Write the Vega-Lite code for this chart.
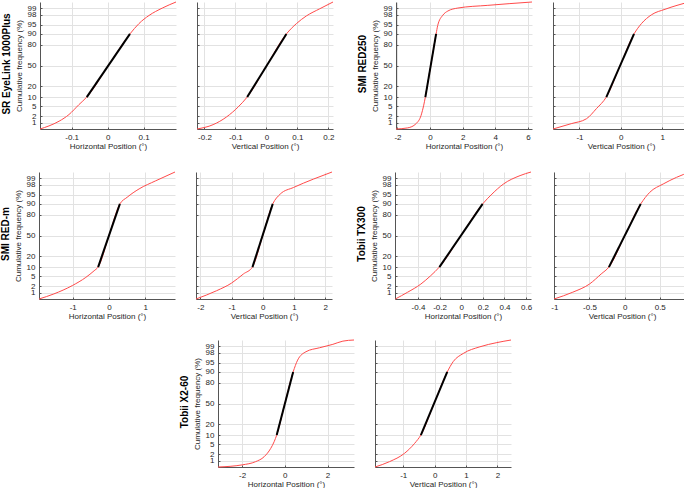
{
  "$schema": "https://vega.github.io/schema/vega-lite/v6.json",
  "padding": {"left": 1, "top": 0, "right": 0, "bottom": 0},
  "background": "white",
  "datasets": {
    "A": [
      {"s": "curve", "x": -0.188, "z": -2.5758}, {"s": "curve", "x": -0.163, "z": -2.45}, {"s": "curve", "x": -0.135, "z": -2.26},
      {"s": "curve", "x": -0.1075, "z": -1.99}, {"s": "curve", "x": -0.08, "z": -1.59}, {"s": "curve", "x": -0.058, "z": -1.28},
      {"s": "curve", "x": 0.002, "z": 0}, {"s": "curve", "x": 0.062, "z": 1.28}, {"s": "curve", "x": 0.087, "z": 1.7},
      {"s": "curve", "x": 0.115, "z": 2.03}, {"s": "curve", "x": 0.152, "z": 2.33}, {"s": "curve", "x": 0.19, "z": 2.5758},
      {"s": "fit", "x": -0.058, "z": -1.2816}, {"s": "fit", "x": 0.062, "z": 1.2816}
    ],
    "B": [
      {"s": "curve", "x": -0.224, "z": -2.5758}, {"s": "curve", "x": -0.172, "z": -2.4}, {"s": "curve", "x": -0.129, "z": -2.09},
      {"s": "curve", "x": -0.091, "z": -1.68}, {"s": "curve", "x": -0.062, "z": -1.28}, {"s": "curve", "x": 0.001, "z": 0},
      {"s": "curve", "x": 0.0645, "z": 1.28}, {"s": "curve", "x": 0.097, "z": 1.7}, {"s": "curve", "x": 0.129, "z": 2.01},
      {"s": "curve", "x": 0.172, "z": 2.3}, {"s": "curve", "x": 0.215, "z": 2.5758},
      {"s": "fit", "x": -0.062, "z": -1.2816}, {"s": "fit", "x": 0.0645, "z": 1.2816}
    ],
    "C": [
      {"s": "curve", "x": -2.09, "z": -2.5758}, {"s": "curve", "x": -1.37, "z": -2.53}, {"s": "curve", "x": -0.86, "z": -2.36},
      {"s": "curve", "x": -0.55, "z": -2.02}, {"s": "curve", "x": -0.39, "z": -1.61}, {"s": "curve", "x": -0.29, "z": -1.28},
      {"s": "curve", "x": 0.04, "z": 0}, {"s": "curve", "x": 0.37, "z": 1.28}, {"s": "curve", "x": 0.47, "z": 1.63},
      {"s": "curve", "x": 0.78, "z": 2.04}, {"s": "curve", "x": 1.09, "z": 2.21}, {"s": "curve", "x": 1.7, "z": 2.33},
      {"s": "curve", "x": 3.54, "z": 2.44}, {"s": "curve", "x": 6.25, "z": 2.5758},
      {"s": "fit", "x": -0.29, "z": -1.2816}, {"s": "fit", "x": 0.37, "z": 1.2816}
    ],
    "D": [
      {"s": "curve", "x": -1.64, "z": -2.5758}, {"s": "curve", "x": -1.2, "z": -2.36}, {"s": "curve", "x": -0.83, "z": -2.16},
      {"s": "curve", "x": -0.59, "z": -1.75}, {"s": "curve", "x": -0.35, "z": -1.28}, {"s": "curve", "x": -0.015, "z": 0},
      {"s": "curve", "x": 0.32, "z": 1.28}, {"s": "curve", "x": 0.5, "z": 1.7}, {"s": "curve", "x": 0.745, "z": 2.06},
      {"s": "curve", "x": 1.07, "z": 2.28}, {"s": "curve", "x": 1.65, "z": 2.5758},
      {"s": "fit", "x": -0.35, "z": -1.2816}, {"s": "fit", "x": 0.32, "z": 1.2816}
    ],
    "E": [
      {"s": "curve", "x": -1.93, "z": -2.5758}, {"s": "curve", "x": -1.52, "z": -2.37}, {"s": "curve", "x": -1.01, "z": -2.03},
      {"s": "curve", "x": -0.64, "z": -1.7}, {"s": "curve", "x": -0.41, "z": -1.43}, {"s": "curve", "x": -0.3, "z": -1.28},
      {"s": "curve", "x": 0, "z": 0}, {"s": "curve", "x": 0.3, "z": 1.28}, {"s": "curve", "x": 0.5, "z": 1.55},
      {"s": "curve", "x": 0.83, "z": 1.89}, {"s": "curve", "x": 1.29, "z": 2.22}, {"s": "curve", "x": 1.82, "z": 2.5758},
      {"s": "fit", "x": -0.3, "z": -1.2816}, {"s": "fit", "x": 0.3, "z": 1.2816}
    ],
    "F": [
      {"s": "curve", "x": -2.14, "z": -2.5758}, {"s": "curve", "x": -1.48, "z": -2.24}, {"s": "curve", "x": -1.0, "z": -1.93},
      {"s": "curve", "x": -0.62, "z": -1.56}, {"s": "curve", "x": -0.33, "z": -1.28}, {"s": "curve", "x": 0, "z": 0},
      {"s": "curve", "x": 0.32, "z": 1.28}, {"s": "curve", "x": 0.56, "z": 1.68}, {"s": "curve", "x": 0.99, "z": 1.95},
      {"s": "curve", "x": 1.63, "z": 2.29}, {"s": "curve", "x": 2.22, "z": 2.5758},
      {"s": "fit", "x": -0.33, "z": -1.2816}, {"s": "fit", "x": 0.32, "z": 1.2816}
    ],
    "G": [
      {"s": "curve", "x": -0.609, "z": -2.5758}, {"s": "curve", "x": -0.495, "z": -2.3}, {"s": "curve", "x": -0.373, "z": -1.97},
      {"s": "curve", "x": -0.282, "z": -1.63}, {"s": "curve", "x": -0.202, "z": -1.28}, {"s": "curve", "x": -0.002, "z": 0},
      {"s": "curve", "x": 0.198, "z": 1.28}, {"s": "curve", "x": 0.284, "z": 1.68}, {"s": "curve", "x": 0.391, "z": 2.09},
      {"s": "curve", "x": 0.544, "z": 2.43}, {"s": "curve", "x": 0.645, "z": 2.5758},
      {"s": "fit", "x": -0.202, "z": -1.2816}, {"s": "fit", "x": 0.198, "z": 1.2816}
    ],
    "H": [
      {"s": "curve", "x": -1.004, "z": -2.5758}, {"s": "curve", "x": -0.737, "z": -2.3}, {"s": "curve", "x": -0.5, "z": -1.97},
      {"s": "curve", "x": -0.333, "z": -1.56}, {"s": "curve", "x": -0.223, "z": -1.28}, {"s": "curve", "x": 0.003, "z": 0},
      {"s": "curve", "x": 0.229, "z": 1.28}, {"s": "curve", "x": 0.357, "z": 1.75}, {"s": "curve", "x": 0.549, "z": 2.09},
      {"s": "curve", "x": 0.739, "z": 2.36}, {"s": "curve", "x": 0.93, "z": 2.5758},
      {"s": "fit", "x": -0.223, "z": -1.2816}, {"s": "fit", "x": 0.229, "z": 1.2816}
    ],
    "I": [
      {"s": "curve", "x": -3.13, "z": -2.5758}, {"s": "curve", "x": -2.0, "z": -2.49}, {"s": "curve", "x": -1.37, "z": -2.36},
      {"s": "curve", "x": -0.97, "z": -2.16}, {"s": "curve", "x": -0.66, "z": -1.82}, {"s": "curve", "x": -0.5, "z": -1.55},
      {"s": "curve", "x": -0.38, "z": -1.28}, {"s": "curve", "x": 0, "z": 0}, {"s": "curve", "x": 0.39, "z": 1.28},
      {"s": "curve", "x": 0.6, "z": 1.76}, {"s": "curve", "x": 0.99, "z": 2.1}, {"s": "curve", "x": 1.62, "z": 2.26},
      {"s": "curve", "x": 2.25, "z": 2.4}, {"s": "curve", "x": 2.72, "z": 2.53}, {"s": "curve", "x": 3.24, "z": 2.5758},
      {"s": "fit", "x": -0.38, "z": -1.2816}, {"s": "fit", "x": 0.39, "z": 1.2816}
    ],
    "J": [
      {"s": "curve", "x": -1.9, "z": -2.5758}, {"s": "curve", "x": -1.44, "z": -2.36}, {"s": "curve", "x": -0.96, "z": -2.02},
      {"s": "curve", "x": -0.64, "z": -1.62}, {"s": "curve", "x": -0.44, "z": -1.28}, {"s": "curve", "x": -0.02, "z": 0},
      {"s": "curve", "x": 0.4, "z": 1.28}, {"s": "curve", "x": 0.59, "z": 1.7}, {"s": "curve", "x": 0.91, "z": 2.03},
      {"s": "curve", "x": 1.44, "z": 2.3}, {"s": "curve", "x": 1.98, "z": 2.47}, {"s": "curve", "x": 2.43, "z": 2.5758},
      {"s": "fit", "x": -0.44, "z": -1.2816}, {"s": "fit", "x": 0.4, "z": 1.2816}
    ]
  },
  "config": {
    "font": "Liberation Sans",
    "view": {"stroke": null},
    "axis": {
      "labelFont": "Liberation Sans", "labelFontSize": 8, "labelColor": "#262626",
      "titleFont": "Liberation Sans", "titleFontSize": 8, "titleFontWeight": "normal", "titleColor": "#262626",
      "domainColor": "#555555", "tickColor": "#555555", "gridColor": "#e2e2e2", "grid": true,
      "labelOverlap": false, "labelFlush": false
    },
    "axisX": {"tickSize": -2, "labelPadding": 6, "titlePadding": 1},
    "axisY": {"tickSize": -2, "labelPadding": 6, "titlePadding": 4},
    "title": {"font": "Liberation Sans", "fontSize": 10, "fontWeight": "bold", "color": "#000000"}
  },
  "center": true,
  "spacing": 20,
  "vconcat": [
    {
      "spacing": 23,
      "hconcat": [
        {
          "title": {"text": "SR EyeLink 1000Plus", "orient": "left", "anchor": "middle", "offset": 3, "dx": 11},
          "spacing": 17,
          "hconcat": [
            {
              "width": 136, "height": 127, "data": {"name": "A"},
              "encoding": {
                "x": {"field": "x", "type": "quantitative", "scale": {"domain": [-0.188, 0.19], "nice": false, "zero": false}, "axis": {"values": [-0.1, 0, 0.1], "labelExpr": "'' + datum.value", "title": "Horizontal Position (°)"}},
                "y": {"field": "z", "type": "quantitative", "scale": {"domain": [-2.5758, 2.5758], "nice": false, "zero": false}, "axis": {"values": [-2.3263, -2.0537, -1.6449, -1.2816, -0.8416, 0, 0.8416, 1.2816, 1.6449, 2.0537, 2.3263], "labelExpr": "format(cumulativeNormal(datum.value) * 100, '.0f')", "title": "Cumulative frequency (%)"}}
              },
              "layer": [
                {"transform": [{"filter": "datum.s === 'curve'"}], "mark": {"type": "line", "color": "#ff4a4a", "strokeWidth": 1, "interpolate": "monotone"}},
                {"transform": [{"filter": "datum.s === 'fit'"}], "mark": {"type": "line", "color": "#000000", "strokeWidth": 2}}
              ]
            },
            {
              "width": 136, "height": 127, "data": {"name": "B"},
              "encoding": {
                "x": {"field": "x", "type": "quantitative", "scale": {"domain": [-0.224, 0.215], "nice": false, "zero": false}, "axis": {"values": [-0.2, -0.1, 0, 0.1, 0.2], "labelExpr": "'' + datum.value", "title": "Vertical Position (°)"}},
                "y": {"field": "z", "type": "quantitative", "scale": {"domain": [-2.5758, 2.5758], "nice": false, "zero": false}, "axis": {"values": [-2.3263, -2.0537, -1.6449, -1.2816, -0.8416, 0, 0.8416, 1.2816, 1.6449, 2.0537, 2.3263], "labels": false, "title": null}}
              },
              "layer": [
                {"transform": [{"filter": "datum.s === 'curve'"}], "mark": {"type": "line", "color": "#ff4a4a", "strokeWidth": 1, "interpolate": "monotone"}},
                {"transform": [{"filter": "datum.s === 'fit'"}], "mark": {"type": "line", "color": "#000000", "strokeWidth": 2}}
              ]
            }
          ]
        },
        {
          "title": {"text": "SMI RED250", "orient": "left", "anchor": "middle", "offset": 3, "dx": 11},
          "spacing": 17,
          "hconcat": [
            {
              "width": 136, "height": 127, "data": {"name": "C"},
              "encoding": {
                "x": {"field": "x", "type": "quantitative", "scale": {"domain": [-2.09, 6.25], "nice": false, "zero": false}, "axis": {"values": [-2, 0, 2, 4, 6], "labelExpr": "'' + datum.value", "title": "Horizontal Position (°)"}},
                "y": {"field": "z", "type": "quantitative", "scale": {"domain": [-2.5758, 2.5758], "nice": false, "zero": false}, "axis": {"values": [-2.3263, -2.0537, -1.6449, -1.2816, -0.8416, 0, 0.8416, 1.2816, 1.6449, 2.0537, 2.3263], "labelExpr": "format(cumulativeNormal(datum.value) * 100, '.0f')", "title": "Cumulative frequency (%)"}}
              },
              "layer": [
                {"transform": [{"filter": "datum.s === 'curve'"}], "mark": {"type": "line", "color": "#ff4a4a", "strokeWidth": 1, "interpolate": "monotone"}},
                {"transform": [{"filter": "datum.s === 'fit'"}], "mark": {"type": "line", "color": "#000000", "strokeWidth": 2}}
              ]
            },
            {
              "width": 136, "height": 127, "data": {"name": "D"},
              "encoding": {
                "x": {"field": "x", "type": "quantitative", "scale": {"domain": [-1.64, 1.65], "nice": false, "zero": false}, "axis": {"values": [-1, 0, 1], "labelExpr": "'' + datum.value", "title": "Vertical Position (°)"}},
                "y": {"field": "z", "type": "quantitative", "scale": {"domain": [-2.5758, 2.5758], "nice": false, "zero": false}, "axis": {"values": [-2.3263, -2.0537, -1.6449, -1.2816, -0.8416, 0, 0.8416, 1.2816, 1.6449, 2.0537, 2.3263], "labels": false, "title": null}}
              },
              "layer": [
                {"transform": [{"filter": "datum.s === 'curve'"}], "mark": {"type": "line", "color": "#ff4a4a", "strokeWidth": 1, "interpolate": "monotone"}},
                {"transform": [{"filter": "datum.s === 'fit'"}], "mark": {"type": "line", "color": "#000000", "strokeWidth": 2}}
              ]
            }
          ]
        }
      ]
    },
    {
      "spacing": 18,
      "center": true,
      "vconcat": [
        {
          "spacing": 23,
          "hconcat": [
            {
              "title": {"text": "SMI RED-m", "orient": "left", "anchor": "middle", "offset": 3, "dx": 11},
              "spacing": 17,
              "hconcat": [
                {
                  "width": 136, "height": 127, "data": {"name": "E"},
                  "encoding": {
                    "x": {"field": "x", "type": "quantitative", "scale": {"domain": [-1.93, 1.82], "nice": false, "zero": false}, "axis": {"values": [-1, 0, 1], "labelExpr": "'' + datum.value", "title": "Horizontal Position (°)"}},
                    "y": {"field": "z", "type": "quantitative", "scale": {"domain": [-2.5758, 2.5758], "nice": false, "zero": false}, "axis": {"values": [-2.3263, -2.0537, -1.6449, -1.2816, -0.8416, 0, 0.8416, 1.2816, 1.6449, 2.0537, 2.3263], "labelExpr": "format(cumulativeNormal(datum.value) * 100, '.0f')", "title": "Cumulative frequency (%)"}}
                  },
                  "layer": [
                    {"transform": [{"filter": "datum.s === 'curve'"}], "mark": {"type": "line", "color": "#ff4a4a", "strokeWidth": 1, "interpolate": "monotone"}},
                    {"transform": [{"filter": "datum.s === 'fit'"}], "mark": {"type": "line", "color": "#000000", "strokeWidth": 2}}
                  ]
                },
                {
                  "width": 136, "height": 127, "data": {"name": "F"},
                  "encoding": {
                    "x": {"field": "x", "type": "quantitative", "scale": {"domain": [-2.14, 2.22], "nice": false, "zero": false}, "axis": {"values": [-2, -1, 0, 1, 2], "labelExpr": "'' + datum.value", "title": "Vertical Position (°)"}},
                    "y": {"field": "z", "type": "quantitative", "scale": {"domain": [-2.5758, 2.5758], "nice": false, "zero": false}, "axis": {"values": [-2.3263, -2.0537, -1.6449, -1.2816, -0.8416, 0, 0.8416, 1.2816, 1.6449, 2.0537, 2.3263], "labels": false, "title": null}}
                  },
                  "layer": [
                    {"transform": [{"filter": "datum.s === 'curve'"}], "mark": {"type": "line", "color": "#ff4a4a", "strokeWidth": 1, "interpolate": "monotone"}},
                    {"transform": [{"filter": "datum.s === 'fit'"}], "mark": {"type": "line", "color": "#000000", "strokeWidth": 2}}
                  ]
                }
              ]
            },
            {
              "title": {"text": "Tobii TX300", "orient": "left", "anchor": "middle", "offset": 3, "dx": 11},
              "spacing": 17,
              "hconcat": [
                {
                  "width": 136, "height": 127, "data": {"name": "G"},
                  "encoding": {
                    "x": {"field": "x", "type": "quantitative", "scale": {"domain": [-0.612, 0.645], "nice": false, "zero": false}, "axis": {"values": [-0.4, -0.2, 0, 0.2, 0.4, 0.6], "labelExpr": "'' + datum.value", "title": "Horizontal Position (°)"}},
                    "y": {"field": "z", "type": "quantitative", "scale": {"domain": [-2.5758, 2.5758], "nice": false, "zero": false}, "axis": {"values": [-2.3263, -2.0537, -1.6449, -1.2816, -0.8416, 0, 0.8416, 1.2816, 1.6449, 2.0537, 2.3263], "labelExpr": "format(cumulativeNormal(datum.value) * 100, '.0f')", "title": "Cumulative frequency (%)"}}
                  },
                  "layer": [
                    {"transform": [{"filter": "datum.s === 'curve'"}], "mark": {"type": "line", "color": "#ff4a4a", "strokeWidth": 1, "interpolate": "monotone"}},
                    {"transform": [{"filter": "datum.s === 'fit'"}], "mark": {"type": "line", "color": "#000000", "strokeWidth": 2}}
                  ]
                },
                {
                  "width": 136, "height": 127, "data": {"name": "H"},
                  "encoding": {
                    "x": {"field": "x", "type": "quantitative", "scale": {"domain": [-1.004, 0.93], "nice": false, "zero": false}, "axis": {"values": [-1, -0.5, 0, 0.5], "labelExpr": "'' + datum.value", "title": "Vertical Position (°)"}},
                    "y": {"field": "z", "type": "quantitative", "scale": {"domain": [-2.5758, 2.5758], "nice": false, "zero": false}, "axis": {"values": [-2.3263, -2.0537, -1.6449, -1.2816, -0.8416, 0, 0.8416, 1.2816, 1.6449, 2.0537, 2.3263], "labels": false, "title": null}}
                  },
                  "layer": [
                    {"transform": [{"filter": "datum.s === 'curve'"}], "mark": {"type": "line", "color": "#ff4a4a", "strokeWidth": 1, "interpolate": "monotone"}},
                    {"transform": [{"filter": "datum.s === 'fit'"}], "mark": {"type": "line", "color": "#000000", "strokeWidth": 2}}
                  ]
                }
              ]
            }
          ]
        },
        {
          "hconcat": [
            {
              "title": {"text": "Tobii X2-60", "orient": "left", "anchor": "middle", "offset": 3, "dx": 11},
              "spacing": 17,
              "hconcat": [
                {
                  "width": 136, "height": 127, "data": {"name": "I"},
                  "encoding": {
                    "x": {"field": "x", "type": "quantitative", "scale": {"domain": [-3.13, 3.24], "nice": false, "zero": false}, "axis": {"values": [-2, 0, 2], "labelExpr": "'' + datum.value", "title": "Horizontal Position (°)"}},
                    "y": {"field": "z", "type": "quantitative", "scale": {"domain": [-2.5758, 2.5758], "nice": false, "zero": false}, "axis": {"values": [-2.3263, -2.0537, -1.6449, -1.2816, -0.8416, 0, 0.8416, 1.2816, 1.6449, 2.0537, 2.3263], "labelExpr": "format(cumulativeNormal(datum.value) * 100, '.0f')", "title": "Cumulative frequency (%)"}}
                  },
                  "layer": [
                    {"transform": [{"filter": "datum.s === 'curve'"}], "mark": {"type": "line", "color": "#ff4a4a", "strokeWidth": 1, "interpolate": "monotone"}},
                    {"transform": [{"filter": "datum.s === 'fit'"}], "mark": {"type": "line", "color": "#000000", "strokeWidth": 2}}
                  ]
                },
                {
                  "width": 136, "height": 127, "data": {"name": "J"},
                  "encoding": {
                    "x": {"field": "x", "type": "quantitative", "scale": {"domain": [-1.9, 2.43], "nice": false, "zero": false}, "axis": {"values": [-1, 0, 1, 2], "labelExpr": "'' + datum.value", "title": "Vertical Position (°)"}},
                    "y": {"field": "z", "type": "quantitative", "scale": {"domain": [-2.5758, 2.5758], "nice": false, "zero": false}, "axis": {"values": [-2.3263, -2.0537, -1.6449, -1.2816, -0.8416, 0, 0.8416, 1.2816, 1.6449, 2.0537, 2.3263], "labels": false, "title": null}}
                  },
                  "layer": [
                    {"transform": [{"filter": "datum.s === 'curve'"}], "mark": {"type": "line", "color": "#ff4a4a", "strokeWidth": 1, "interpolate": "monotone"}},
                    {"transform": [{"filter": "datum.s === 'fit'"}], "mark": {"type": "line", "color": "#000000", "strokeWidth": 2}}
                  ]
                }
              ]
            }
          ]
        }
      ]
    }
  ]
}
